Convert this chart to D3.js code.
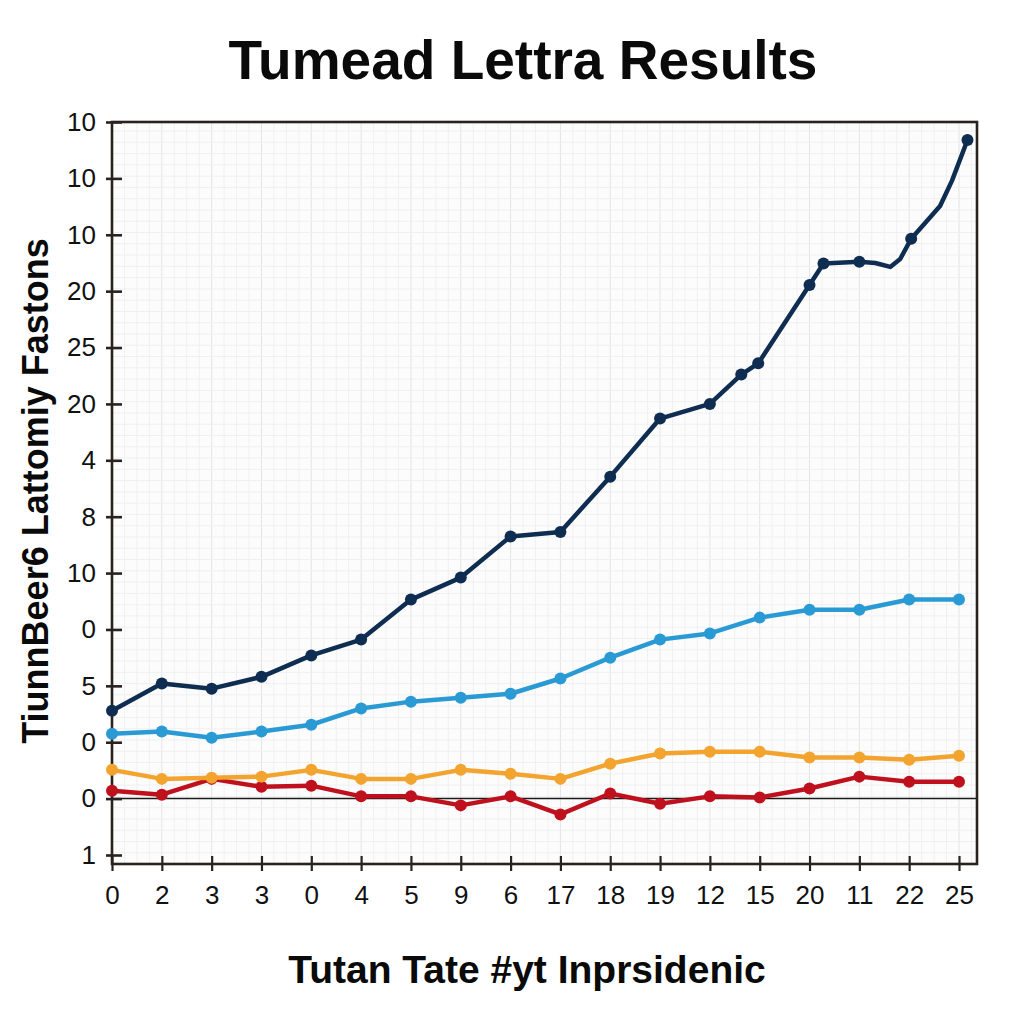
<!DOCTYPE html>
<html>
<head>
<meta charset="utf-8">
<script src="https://cdn.jsdelivr.net/npm/d3@7"></script>
<style>
  html, body { margin: 0; padding: 0; background: #ffffff; }
  svg { display: block; }
</style>
</head>
<body>
<svg id="chart" width="1024" height="1024"></svg>
<script>
// ---------- data ----------
const chartTitle = "Tumead Lettra Results";
const xAxisTitle = "Tutan Tate #yt Inprsidenic";
const yAxisTitle = "TiunnBeer6 Lattomiy Fastons";

const xTickLabels = ["0","2","3","3","0","4","5","9","6","17","18","19","12","15","20","11","22","25"];
// y tick labels from bottom to top
const yTickLabels = ["1","0","0","5","0","10","8","4","20","25","20","10","10","10"];
const yTickValues = [-1,0,1,2,3,4,5,6,7,8,9,10,11,12];

// navy series: x position (category index), value, and whether a marker is drawn
const navyX      = [0, 1, 2, 3, 4, 5, 6, 7, 8, 9, 10, 11, 12, 12.63, 12.97, 14.0, 14.28, 15, 15.32, 15.62, 15.82, 16.04, 16.32, 16.62, 16.86, 17.17];
const navyValues = [1.56, 2.04, 1.95, 2.16, 2.54, 2.82, 3.53, 3.92, 4.65, 4.73, 5.71, 6.74, 7.00, 7.52, 7.72, 9.11, 9.49, 9.52, 9.50, 9.43, 9.57, 9.93, 10.21, 10.51, 10.96, 11.68];
const navyMarker = [1,1,1,1,1,1,1,1,1,1,1,1,1,1,1,1,1,1,0,0,0,1,0,0,0,1];

const blueValues   = [1.15, 1.19, 1.08, 1.19, 1.31, 1.60, 1.72, 1.79, 1.86, 2.13, 2.50, 2.82, 2.93, 3.21, 3.35, 3.35, 3.53, 3.53];
const orangeValues = [0.51, 0.35, 0.37, 0.39, 0.51, 0.35, 0.35, 0.51, 0.44, 0.35, 0.62, 0.80, 0.83, 0.83, 0.73, 0.73, 0.69, 0.76];
const redValues    = [0.14, 0.07, 0.35, 0.21, 0.23, 0.04, 0.04, -0.12, 0.04, -0.28, 0.09, -0.09, 0.04, 0.02, 0.18, 0.39, 0.30, 0.30];

const colors = { navy: "#0e2d50", blue: "#2a9ad4", orange: "#f2a42e", red: "#bf111d" };

// ---------- layout ----------
const svg = d3.select("#chart");
const frame = { left: 112, right: 977, top: 122, bottom: 864 };

const x = d3.scaleLinear().domain([0, 17]).range([112, 959]);
const y = d3.scaleLinear().domain([-1, 12]).range([855, 122]);

const font = "'Liberation Sans', Arial, sans-serif";

// plot background
svg.append("rect")
  .attr("x", frame.left).attr("y", frame.top)
  .attr("width", frame.right - frame.left).attr("height", frame.bottom - frame.top)
  .attr("fill", "#fcfcfc");

// grid
const grid = svg.append("g");
const xMinor = d3.range(0, 17.4, 0.25);
grid.selectAll("line.vx").data(xMinor).join("line")
  .attr("x1", d => x(d)).attr("x2", d => x(d))
  .attr("y1", frame.top).attr("y2", frame.bottom)
  .attr("stroke", d => Math.abs(d - Math.round(d)) < 1e-6 ? "#e4e4e4" : "#f0f0f0")
  .attr("stroke-width", 1);
const yMinor = d3.range(-1.16, 12.0001, 0.2);
grid.selectAll("line.hy").data(yMinor).join("line")
  .attr("x1", frame.left).attr("x2", frame.right)
  .attr("y1", d => y(d)).attr("y2", d => y(d))
  .attr("stroke", "#f0f0f0")
  .attr("stroke-width", 1);

// zero baseline
svg.append("line")
  .attr("x1", frame.left).attr("x2", frame.right)
  .attr("y1", y(0)).attr("y2", y(0))
  .attr("stroke", "#1a1a1a").attr("stroke-width", 1.5);

// frame
svg.append("rect")
  .attr("x", frame.left).attr("y", frame.top)
  .attr("width", frame.right - frame.left).attr("height", frame.bottom - frame.top)
  .attr("fill", "none").attr("stroke", "#2a221f").attr("stroke-width", 2.6);

// y axis
const yAxis = svg.append("g")
  .attr("transform", `translate(${frame.left},0)`)
  .call(d3.axisLeft(y).tickValues(yTickValues).tickFormat((d, i) => yTickLabels[i]).tickSizeOuter(0));
yAxis.select(".domain").remove();
yAxis.selectAll(".tick line").attr("x1", -6).attr("x2", 10).attr("stroke", "#2a221f").attr("stroke-width", 2.6);
yAxis.selectAll(".tick text").attr("x", -16).attr("font-family", font).attr("font-size", 26).attr("fill", "#111");

// x axis
const xAxis = svg.append("g")
  .attr("transform", `translate(0,${frame.bottom})`)
  .call(d3.axisBottom(x).tickValues(d3.range(0, 18)).tickFormat(i => xTickLabels[i]).tickSizeOuter(0));
xAxis.select(".domain").remove();
xAxis.selectAll(".tick line").attr("y1", -8).attr("y2", 7).attr("stroke", "#2a221f").attr("stroke-width", 2.2);
xAxis.selectAll(".tick text").attr("y", 22).attr("font-family", font).attr("font-size", 26).attr("fill", "#111");

// series
const idx = d3.range(0, 18);
const seriesDefs = [
  { key: "red", xs: idx, vs: redValues, mk: idx.map(() => 1) },
  { key: "orange", xs: idx, vs: orangeValues, mk: idx.map(() => 1) },
  { key: "blue", xs: idx, vs: blueValues, mk: idx.map(() => 1) },
  { key: "navy", xs: navyX, vs: navyValues, mk: navyMarker }
];

seriesDefs.forEach(s => {
  const pts = s.xs.map((xv, i) => ({ x: xv, v: s.vs[i], m: s.mk[i] }));
  const line = d3.line().x(d => x(d.x)).y(d => y(d.v)).curve(d3.curveLinear);
  const g = svg.append("g");
  g.append("path").datum(pts)
    .attr("d", line)
    .attr("fill", "none")
    .attr("stroke", colors[s.key])
    .attr("stroke-width", 4.5)
    .attr("stroke-linejoin", "round")
    .attr("stroke-linecap", "round");
  g.selectAll("circle").data(pts.filter(d => d.m)).join("circle")
    .attr("cx", d => x(d.x)).attr("cy", d => y(d.v))
    .attr("r", 6)
    .attr("fill", colors[s.key]);
});

// titles
svg.append("text")
  .attr("x", 523).attr("y", 79)
  .attr("text-anchor", "middle")
  .attr("font-family", font).attr("font-weight", "bold").attr("font-size", 55)
  .attr("fill", "#0a0a0a")
  .text(chartTitle);

svg.append("text")
  .attr("x", 527).attr("y", 983)
  .attr("text-anchor", "middle")
  .attr("font-family", font).attr("font-weight", "bold").attr("font-size", 39)
  .attr("fill", "#0a0a0a")
  .text(xAxisTitle);

svg.append("text")
  .attr("transform", "translate(48,491) rotate(-90)")
  .attr("text-anchor", "middle")
  .attr("font-family", font).attr("font-weight", "bold").attr("font-size", 36)
  .attr("fill", "#0a0a0a")
  .text(yAxisTitle);
</script>
</body>
</html>
